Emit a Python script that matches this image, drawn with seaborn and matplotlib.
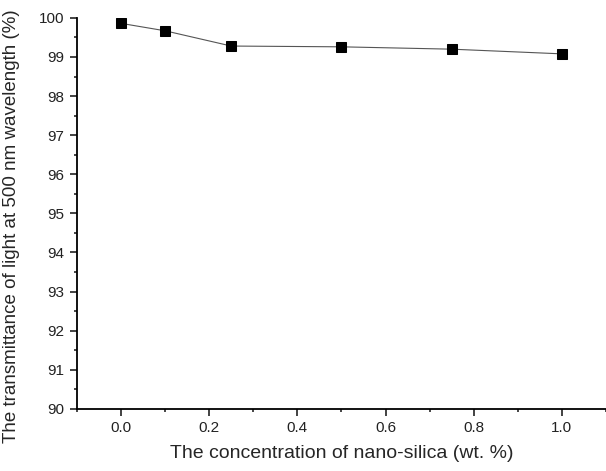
import matplotlib
matplotlib.use("Agg")
import matplotlib.pyplot as plt
import seaborn as sns
from matplotlib.ticker import MultipleLocator

# concentration of nano-silica (wt. %) and transmittance at 500 nm (%)
concentration = [0.0, 0.1, 0.25, 0.5, 0.75, 1.0]
transmittance = [99.86, 99.67, 99.28, 99.26, 99.20, 99.08]

sns.set_style("ticks")
plt.rcParams['font.family'] = ['Liberation Sans', 'DejaVu Sans']

fig = plt.figure(figsize=(6.06, 4.71), dpi=100)
ax = fig.add_axes([0.127, 0.132, 0.873, 0.830])

sns.lineplot(x=concentration, y=transmittance, ax=ax, color="#555555",
             linewidth=0.8, marker="s", markersize=6.5,
             markerfacecolor="black", markeredgecolor="black")

ax.set_xlim(-0.1, 1.1)
ax.set_ylim(90, 100)
ax.xaxis.set_major_locator(MultipleLocator(0.2))
ax.xaxis.set_minor_locator(MultipleLocator(0.1))
ax.yaxis.set_major_locator(MultipleLocator(1))
ax.yaxis.set_minor_locator(MultipleLocator(0.5))
ax.xaxis.set_major_formatter(plt.FormatStrFormatter('%.1f'))

ax.tick_params(which="major", direction="out", length=5, width=1.2, labelsize=11,
               colors="#222222", pad=4)
ax.tick_params(which="minor", direction="out", length=2.5, width=1.2)
for s in ["top", "right"]:
    ax.spines[s].set_visible(False)
for s in ["left", "bottom"]:
    ax.spines[s].set_color("black")
    ax.spines[s].set_linewidth(1.3)

ax.set_xlabel("The concentration of nano-silica (wt. %)", fontsize=14, labelpad=7)
ax.set_ylabel("The transmittance of light at 500 nm wavelength (%)", fontsize=13.5)
ax.yaxis.set_label_coords(-0.108, 0.468)

fig.savefig("out.png", dpi=100)
